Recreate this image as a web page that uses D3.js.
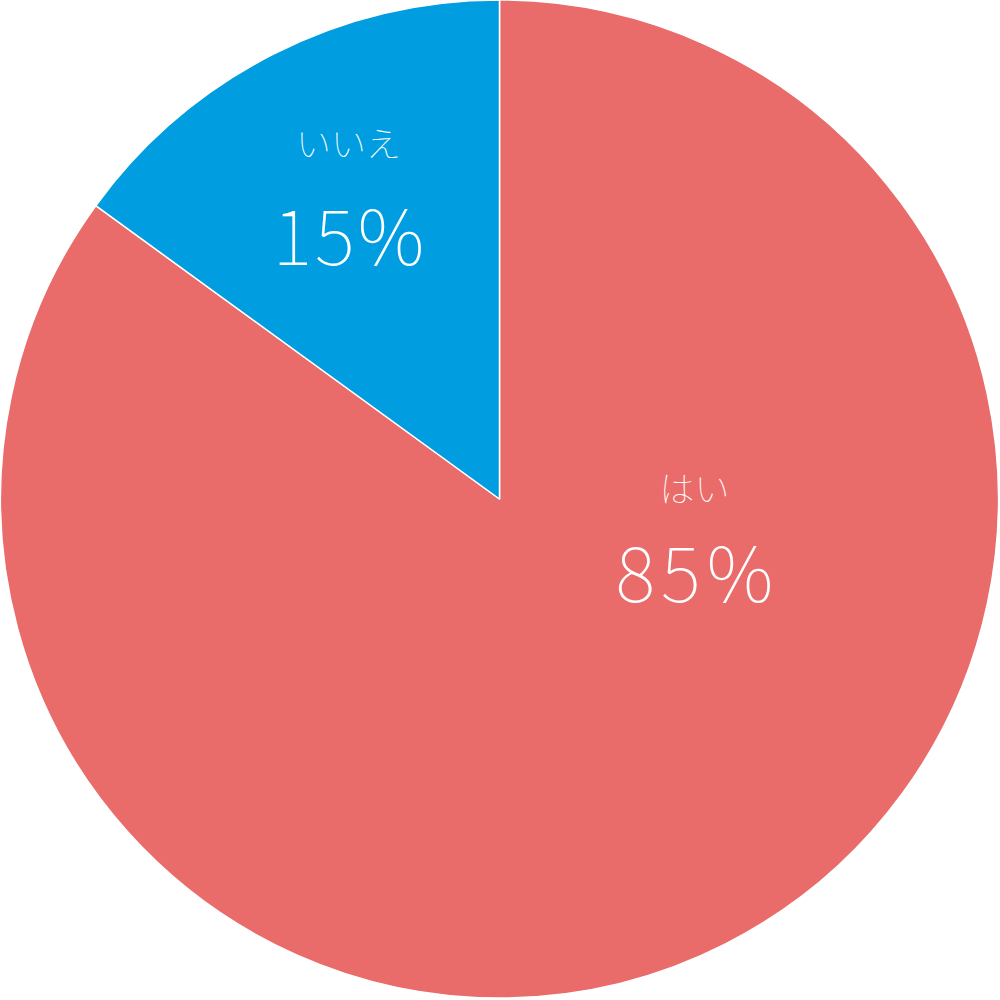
<!DOCTYPE html>
<html><head><meta charset="utf-8">
<script src="https://cdn.jsdelivr.net/npm/d3@7"></script>
<style>html,body{margin:0;padding:0;background:#fff;}</style>
</head><body>
<svg id="chart" width="1000" height="1000"></svg>
<script>
const categories = ["はい", "いいえ"];
const values = [85, 15];
const colors = ["#E96C6B", "#009EE0"];

const svg = d3.select("#chart");
const cx = 499.5, cy = 499, R = 499;
const g = svg.append("g").attr("transform", `translate(${cx},${cy})`);

const data = categories.map((c, i) => ({cat: c, value: values[i], color: colors[i]}));
const pie = d3.pie().value(d => d.value).sort(null);
const arcs = pie(data);
const arc = d3.arc().innerRadius(0).outerRadius(R);

g.selectAll("path").data(arcs).join("path")
  .attr("d", arc)
  .attr("fill", d => d.data.color)
  .attr("stroke", "#fff")
  .attr("stroke-width", 1.5)
  .attr("stroke-linejoin", "round");

// label layout (relative to pie centre): x, label baseline, value baseline, value text width
const labelLayout = [
  {x: 195, yl: 3, yv: 103, w: 158},
  {x: -151, yl: -342, yv: -234, w: 152}
];
const font = "'Noto Sans CJK JP', sans-serif";
arcs.forEach((d, i) => {
  const p = labelLayout[i];
  g.append("text").attr("x", p.x).attr("y", p.yl)
    .attr("text-anchor", "middle").attr("fill", "#fff")
    .attr("font-family", font).attr("font-weight", 100).attr("font-size", 35)
    .text(d.data.cat);
  g.append("text").attr("x", p.x - p.w / 2).attr("y", p.yv)
    .attr("fill", "#fff")
    .attr("font-family", font).attr("font-weight", 100).attr("font-size", 76)
    .attr("textLength", p.w).attr("lengthAdjust", "spacing")
    .text(d.data.value + "%");
});
</script>
</body></html>
